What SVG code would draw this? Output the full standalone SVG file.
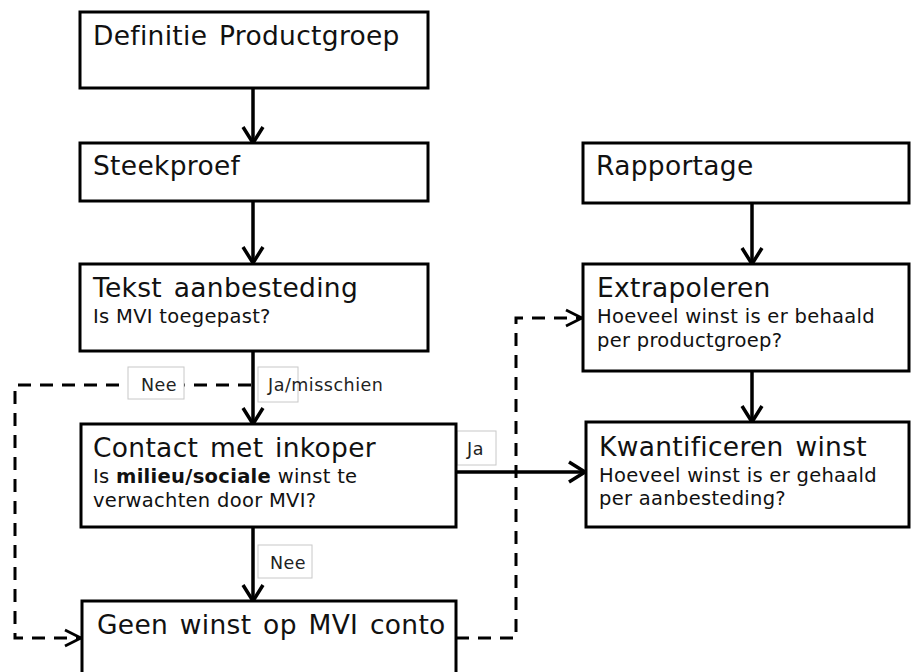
<svg xmlns="http://www.w3.org/2000/svg" width="912" height="672" viewBox="0 0 912 672">
<defs>
<marker id="ah" viewBox="0 0 22 24" refX="19" refY="12" markerWidth="22" markerHeight="24" markerUnits="userSpaceOnUse" orient="auto">
<path d="M3,2 L19,12 L3,22" fill="none" stroke="#000" stroke-width="3.5"/>
</marker>
<marker id="ahd" viewBox="0 0 22 20" refX="19" refY="10" markerWidth="22" markerHeight="20" markerUnits="userSpaceOnUse" orient="auto">
<path d="M3,2 L19,10 L3,18" fill="none" stroke="#000" stroke-width="2.8"/>
</marker>
</defs>
<style>
.box{fill:#fff;stroke:#000;stroke-width:3}
.t{font-family:"DejaVu Sans","Verdana",sans-serif;font-size:26.5px;letter-spacing:0.3px;word-spacing:3px;fill:#111}
.s{font-family:"DejaVu Sans","Verdana",sans-serif;font-size:19.5px;letter-spacing:0.3px;fill:#111}
.solid{fill:none;stroke:#000;stroke-width:3.5}
.dash{fill:none;stroke:#000;stroke-width:3;stroke-dasharray:13 9}
.lbl{fill:#fff;stroke:#c8c8c8;stroke-width:1}
.lt{font-family:"DejaVu Sans","Verdana",sans-serif;font-size:17.5px;letter-spacing:0.5px;fill:#222}
</style>
<rect width="912" height="672" fill="#fff"/>

<g id="connectors">
<line class="solid" x1="253" y1="88" x2="253" y2="143" marker-end="url(#ah)"/>
<line class="solid" x1="253" y1="201" x2="253" y2="263" marker-end="url(#ah)"/>
<line class="solid" x1="253" y1="351" x2="253" y2="424" marker-end="url(#ah)"/>
<line class="solid" x1="253" y1="527" x2="253" y2="601" marker-end="url(#ah)"/>
<line class="solid" x1="752" y1="203" x2="752" y2="264" marker-end="url(#ah)"/>
<line class="solid" x1="752" y1="371" x2="752" y2="422" marker-end="url(#ah)"/>
<line class="solid" x1="456" y1="472" x2="585" y2="472" marker-end="url(#ah)"/>
<polyline class="dash" points="251,385 15,385 15,638 81,638" marker-end="url(#ahd)"/>
<polyline class="dash" points="456,638 516,638 516,318 582,318" marker-end="url(#ahd)"/>
<g id="lbl-nee1"><rect class="lbl" x="128" y="367" width="56" height="32"/><text class="lt" x="141" y="391">Nee</text></g>
<g id="lbl-ja-misschien"><rect class="lbl" x="258" y="367" width="40" height="35"/><text class="lt" x="268" y="391">Ja/misschien</text></g>
<g id="lbl-ja"><rect class="lbl" x="457" y="431" width="39" height="34"/><text class="lt" x="467" y="455">Ja</text></g>
<g id="lbl-nee2"><rect class="lbl" x="258" y="545" width="54" height="33"/><text class="lt" x="270" y="569">Nee</text></g>
</g>

<g id="n-definitie">
<rect class="box" x="80" y="12" width="348" height="76"/>
<text class="t" x="93" y="45">Definitie Productgroep</text>
</g>
<g id="n-steekproef">
<rect class="box" x="80" y="143" width="348" height="58"/>
<text class="t" x="93" y="175">Steekproef</text>
</g>
<g id="n-tekst">
<rect class="box" x="80" y="264" width="348" height="87"/>
<text class="t" x="93" y="297">Tekst aanbesteding</text>
<text class="s" x="93" y="323">Is MVI toegepast?</text>
</g>
<g id="n-contact">
<rect class="box" x="81" y="424" width="375" height="103"/>
<text class="t" x="93" y="457">Contact met inkoper</text>
<text class="s" x="93" y="483">Is <tspan font-weight="bold">milieu/sociale</tspan> winst te</text>
<text class="s" x="93" y="507">verwachten door MVI?</text>
</g>
<g id="n-geen">
<rect class="box" x="82" y="601" width="374" height="80"/>
<text class="t" x="97" y="634">Geen winst op MVI conto</text>
</g>
<g id="n-rapportage">
<rect class="box" x="583" y="143" width="326" height="60"/>
<text class="t" x="596" y="175">Rapportage</text>
</g>
<g id="n-extrapoleren">
<rect class="box" x="583" y="264" width="326" height="107"/>
<text class="t" x="597" y="297">Extrapoleren</text>
<text class="s" x="597" y="323">Hoeveel winst is er behaald</text>
<text class="s" x="597" y="347">per productgroep?</text>
</g>
<g id="n-kwantificeren">
<rect class="box" x="586" y="422" width="323" height="105"/>
<text class="t" x="599" y="456">Kwantificeren winst</text>
<text class="s" x="599" y="482">Hoeveel winst is er gehaald</text>
<text class="s" x="599" y="505">per aanbesteding?</text>
</g>
</svg>
